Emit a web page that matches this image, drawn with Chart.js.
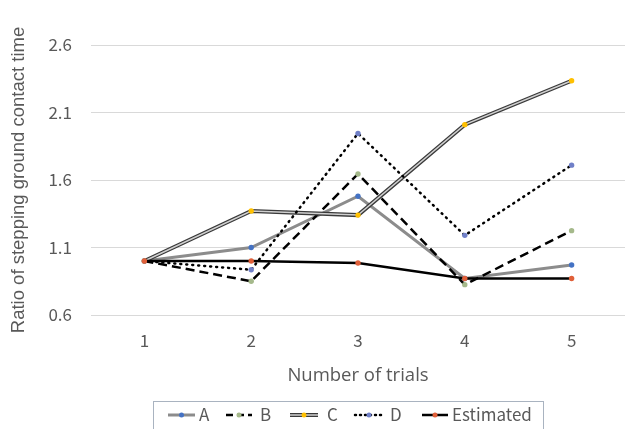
<!DOCTYPE html>
<html>
<head>
<meta charset="utf-8">
<script src="https://cdn.jsdelivr.net/npm/chart.js@4"></script>
<style>
  body { margin: 0; background: #fff; }
  canvas { display: block; }
</style>
</head>
<body>
<canvas id="chart" width="635" height="429"></canvas>
<script>
const trials = ["1", "2", "3", "4", "5"];
const seriesA = [1.0, 1.10, 1.48, 0.87, 0.97];
const seriesB = [1.0, 0.85, 1.645, 0.825, 1.225];
const seriesC = [1.0, 1.37, 1.34, 2.01, 2.335];
const seriesD = [1.0, 0.935, 1.945, 1.19, 1.71];
const estimated = [1.0, 1.0, 0.985, 0.87, 0.87];
const yTicks = [0.6, 1.1, 1.6, 2.1, 2.6];

const textColor = "#595959";
const tickFont = "'Noto Sans CJK JP', 'Noto Sans', sans-serif";

// legend entries drawn by hand so each sample can show its marker
const legendItems = [
    { label: "A", color: "#8c8c8c", width: 3, dash: [], dot: "#4472c4", x0: 168, x1: 195, tx: 199 },
    { label: "B", color: "#000", width: 2.5, dash: [7, 4], dot: "#a5b98b", x0: 226, x1: 252, tx: 260 },
    { label: "C", color: "#3a3a3a", width: 4, dash: [], dot: "#ffc000", x0: 290, x1: 318, tx: 327, inner: "#d0d0d0" },
    { label: "D", color: "#000", width: 2.5, dash: [1, 4], dot: "#7080c8", x0: 355, x1: 383, tx: 390, round: true },
    { label: "Estimated", color: "#000", width: 2.5, dash: [], dot: "#e0603a", x0: 422, x1: 448, tx: 452 }
];

const boxLegend = {
    id: "boxLegend",
    afterDraw(chart) {
        const ctx = chart.ctx;
        const y = 415;
        ctx.save();
        ctx.strokeStyle = "#a9b3c0";
        ctx.lineWidth = 1;
        ctx.strokeRect(153.5, 401.5, 390, 40);
        legendItems.forEach(it => {
            ctx.beginPath();
            ctx.setLineDash(it.dash);
            ctx.lineCap = it.round ? "round" : "butt";
            ctx.strokeStyle = it.color;
            ctx.lineWidth = it.width;
            ctx.moveTo(it.x0, y);
            ctx.lineTo(it.x1, y);
            ctx.stroke();
            if (it.inner) {
                ctx.beginPath();
                ctx.strokeStyle = it.inner;
                ctx.lineWidth = 1.5;
                ctx.moveTo(it.x0, y);
                ctx.lineTo(it.x1, y);
                ctx.stroke();
            }
            ctx.setLineDash([]);
            ctx.beginPath();
            ctx.fillStyle = it.dot;
            ctx.arc((it.x0 + it.x1) / 2, y, 2.5, 0, Math.PI * 2);
            ctx.fill();
            ctx.fillStyle = textColor;
            ctx.font = "17px " + tickFont;
            ctx.textBaseline = "middle";
            ctx.fillText(it.label, it.tx, y);
        });
        ctx.restore();
    }
};

const pointStyle = color => ({
    pointRadius: 2.7,
    pointHoverRadius: 2.7,
    pointBorderWidth: 0,
    pointBackgroundColor: color
});

// lower order is drawn on top, so later series sit above earlier ones
new Chart(document.getElementById("chart"), {
    type: "line",
    data: {
        labels: trials,
        datasets: [
            { label: "A", data: seriesA, order: 6, borderColor: "#8c8c8c", borderWidth: 3, ...pointStyle("#4472c4") },
            { label: "B", data: seriesB, order: 5, borderColor: "#000", borderWidth: 2.5, borderDash: [9, 5], ...pointStyle("#a5b98b") },
            { label: "C", data: seriesC, order: 4, borderColor: "#3a3a3a", borderWidth: 4, pointRadius: 0 },
            { label: "C-inner", data: seriesC, order: 3, borderColor: "#d0d0d0", borderWidth: 1.5, ...pointStyle("#ffc000") },
            { label: "D", data: seriesD, order: 2, borderColor: "#000", borderWidth: 2.5, borderDash: [1, 5], borderCapStyle: "round", ...pointStyle("#7080c8") },
            { label: "Estimated", data: estimated, order: 1, borderColor: "#000", borderWidth: 2.5, ...pointStyle("#e0603a") }
        ]
    },
    options: {
        responsive: false,
        animation: false,
        layout: { padding: { left: 10, right: 10, top: 45, bottom: 44 } },
        plugins: { legend: { display: false }, tooltip: { enabled: false } },
        scales: {
            x: {
                offset: true,
                grid: { display: false },
                border: { display: false },
                ticks: { color: textColor, font: { family: tickFont, size: 17 }, padding: 7 },
                title: {
                    display: true, text: "Number of trials", color: textColor,
                    font: { family: "'Open Sans', sans-serif", size: 18.5, lineHeight: 1 }, padding: { top: 0, bottom: 0 }
                },
                afterFit: scale => { scale.height = 70; }
            },
            y: {
                min: 0.6,
                max: 2.6,
                afterBuildTicks: scale => { scale.ticks = yTicks.map(v => ({ value: v })); },
                grid: { color: "#d9d9d9", lineWidth: 1, drawTicks: false },
                border: { display: false },
                ticks: { color: textColor, font: { family: tickFont, size: 17 }, padding: 19, callback: v => v.toFixed(1) },
                title: {
                    display: true, text: "Ratio of stepping ground contact time", color: textColor,
                    font: { family: "'Liberation Sans', sans-serif", size: 18.5, lineHeight: 1 }, padding: { top: 0, bottom: 0 }
                },
                afterFit: scale => { scale.width = 81; }
            }
        }
    },
    plugins: [boxLegend]
});
</script>
</body>
</html>
